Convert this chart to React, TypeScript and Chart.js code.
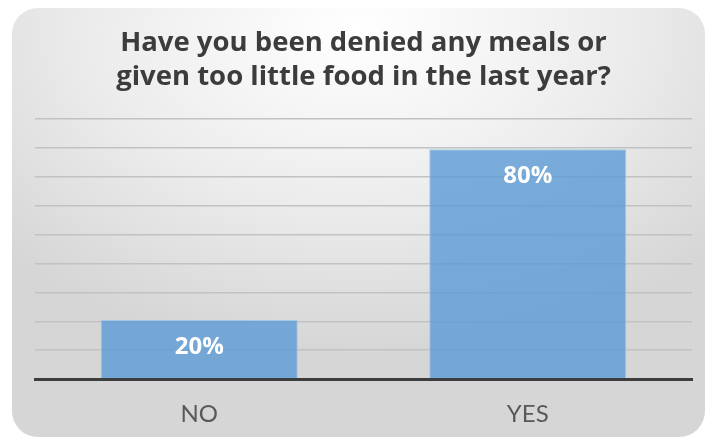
import React, { useEffect, useRef } from "react";
import { Chart, registerables } from "chart.js";

Chart.register(...registerables);

const categories = ["NO", "YES"];
const values = [20.4, 79.6];
const titleLines = ["Have you been denied any meals or", "given too little food in the last year?"];
const yMax = 90;
const yStep = 10;

const dataLabelPlugin = {
  id: "dataLabels",
  afterDatasetsDraw(chart: any) {
    const ctx = chart.ctx;
    const meta = chart.getDatasetMeta(0);
    ctx.save();
    ctx.fillStyle = "#ffffff";
    ctx.font = "bold 24px 'Open Sans'";
    ctx.textAlign = "center";
    ctx.textBaseline = "alphabetic";
    meta.data.forEach((bar: any, i: number) => {
      const v = chart.data.datasets[0].data[i] as number;
      ctx.fillText(Math.round(v) + "%", bar.x, bar.y + 34);
    });
    ctx.restore();
  },
};

export default function App() {
  const ref = useRef<HTMLCanvasElement | null>(null);
  useEffect(() => {
    document.body.style.margin = "0";
    const chart = new Chart(ref.current as HTMLCanvasElement, {
      type: "bar",
      data: {
        labels: categories,
        datasets: [
          {
            data: values,
            backgroundColor: "rgba(91,155,213,0.8)",
            borderColor: "rgba(160,198,232,0.9)",
            borderWidth: 1,
            categoryPercentage: 0.6,
            barPercentage: 1,
          },
        ],
      },
      options: {
        animation: false,
        responsive: true,
        maintainAspectRatio: false,
        layout: { padding: { left: 35, right: 19, top: 0, bottom: 0 } },
        plugins: {
          legend: { display: false },
          tooltip: { enabled: false },
          title: {
            display: true,
            text: titleLines,
            color: "#3c3c3c",
            font: { family: "'Open Sans'", size: 27.5, weight: "bold", lineHeight: 1.24 },
            padding: { top: 26, bottom: 25 },
          },
        },
        scales: {
          x: {
            grid: { display: false, drawTicks: false },
            border: { display: true, color: "#3d3d3d", width: 3 },
            ticks: {
              color: "#595959",
              font: { family: "Lato", size: 24 },
              padding: 21,
            },
            afterFit(scale: any) {
              scale.height = 58;
            },
          },
          y: {
            min: 0,
            max: yMax,
            ticks: { display: false, stepSize: yStep },
            border: { display: false },
            grid: { color: "#c2c2c2", lineWidth: 1.5, drawTicks: false },
            afterFit(scale: any) {
              scale.width = 0;
            },
          },
        },
      },
      plugins: [dataLabelPlugin],
    });
    return () => chart.destroy();
  }, []);

  return (
    <div style={{ position: "fixed", left: 0, top: 0, width: 711, height: 437, background: "#ffffff" }}>
      <div
        style={{
          position: "absolute",
          left: 12,
          top: 8,
          width: 693,
          height: 429,
          borderRadius: 26,
          background:
            "radial-gradient(ellipse 70% 75% at 50% 5%, #ffffff 0%, #ececec 55%, #d6d6d6 100%)",
        }}
      />
      <div style={{ position: "absolute", left: 0, top: 0, width: 711, height: 437 }}>
        <canvas ref={ref} />
      </div>
    </div>
  );
}
